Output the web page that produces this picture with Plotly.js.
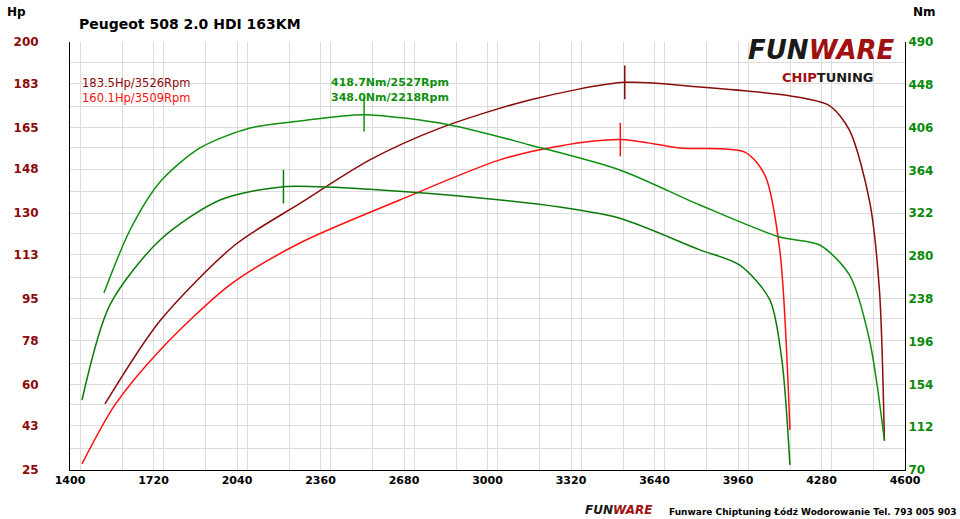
<!DOCTYPE html>
<html><head><meta charset="utf-8">
<script src="https://cdn.plot.ly/plotly-3.0.1.min.js"></script>
<style>body{margin:0;background:#fff}#plot{width:960px;height:519px}</style>
</head><body><div id="plot"></div>
<script>
const tunedHpRpm = [1534,1745,2032,2281,2549,2818,3162,3526,3813,4157,4310,4387,4464,4502,4521]
const tunedHp    = [52,86,117,134,151.8,164.8,176.3,183.5,181.6,178,174,164,135,98.6,37]
const stockHpRpm = [1446,1572,1745,2013,2281,2664,3047,3277,3509,3737,3986,4063,4120,4159]
const stockHp    = [27.5,51.6,74,100.7,117.8,135.4,151.8,157.5,160.1,156.7,155,145.6,115,41.4]
const tunedNmRpm = [1530,1630,1745,1898,2090,2281,2527,2856,3162,3507,3814,4120,4273,4388,4464,4521]
const tunedNm    = [243.7,305.5,352.6,386,405.6,412.5,418.7,408.6,389,364.4,330,298.6,290.8,261,197.6,99.4]
const stockNmRpm = [1446,1553,1745,1975,2218,2588,2971,3277,3507,3814,3967,4082,4128,4159]
const stockNm    = [138.7,232,295.7,335,348,344.8,337,328,317,286,271,237,178,75]
const peaks = {tunedHp:[3526,183.5], stockHp:[3509,160.1], tunedNm:[2527,418.7], stockNm:[2218,348.0]}
const hpTicks = [25,43,60,78,95,113,130,148,165,183,200]
const nmTicks = [70,112,154,196,238,280,322,364,406,448,490]
const rpmTicks = [1400,1720,2040,2360,2680,3000,3320,3640,3960,4280,4600]

const DR='#8b0a0a', R='#ff1010', G='#0f8f0f', DG='#0a7a0a'
function line(x,y,c,ax){return {x:x,y:y,yaxis:ax,mode:'lines',line:{color:c,width:1.5,shape:'spline',smoothing:0.8},hoverinfo:'skip'}}
function peak(p,c,ax){return {x:[p[0]],y:[p[1]],yaxis:ax,mode:'markers',marker:{symbol:'line-ns',size:24,line:{color:c,width:1.5}}}}
const data=[
  line(tunedNmRpm,tunedNm,G,'y2'),line(stockNmRpm,stockNm,DG,'y2'),
  line(tunedHpRpm,tunedHp,DR,'y'),line(stockHpRpm,stockHp,R,'y'),
  peak(peaks.tunedNm,G,'y2'),peak(peaks.stockNm,DG,'y2'),
  peak(peaks.tunedHp,DR,'y'),peak(peaks.stockHp,R,'y')
]
const f='Tahoma, DejaVu Sans, sans-serif'
const grid={showgrid:true,gridcolor:'#dcdcdc',gridwidth:1}
const b=s=>'<b>'+s+'</b>'
const layout={
  width:960,height:519,showlegend:false,plot_bgcolor:'#fff',paper_bgcolor:'#fff',
  margin:{l:70,r:55,t:42,b:49},
  xaxis:Object.assign({range:[1400,4600],tickvals:rpmTicks,ticktext:rpmTicks.map(v=>b(v)),
    minor:{dtick:160,showgrid:true,gridcolor:'#dcdcdc'},showline:true,linecolor:'#000',
    tickfont:{family:f,size:11,color:'#000'},zeroline:false,ticks:''},grid),
  yaxis:Object.assign({range:[25,200],tickvals:hpTicks,ticktext:hpTicks.map(v=>b(v)),
    minor:{tickvals:hpTicks.slice(0,-1).map(v=>v+8.75),showgrid:true,gridcolor:'#dcdcdc'},
    showline:true,linecolor:'#000',tickfont:{family:f,size:12,color:'#8b0a0a'},ticklabelstandoff:28,zeroline:false},grid),
  yaxis2:{range:[70,490],overlaying:'y',side:'right',tickvals:nmTicks,ticktext:nmTicks.map(v=>b(v)),
    showgrid:false,showline:true,linecolor:'#000',tickfont:{family:f,size:12,color:'#0a8a0a'},zeroline:false},
  annotations:[
    {xref:'paper',yref:'paper',x:-0.078,y:1.09,text:'<b>Hp</b>',showarrow:false,font:{family:f,size:12,color:'#000'}},
    {xref:'paper',yref:'paper',x:1.04,y:1.09,text:'<b>Nm</b>',showarrow:false,font:{family:f,size:12,color:'#000'}},
    {xref:'paper',yref:'paper',x:0.008,y:1.065,xanchor:'left',text:'<b>Peugeot 508 2.0 HDI 163KM</b>',showarrow:false,font:{family:f,size:14,color:'#000'}},
    {xref:'paper',yref:'paper',x:0.012,y:0.925,xanchor:'left',text:'183.5Hp/3526Rpm',showarrow:false,font:{family:'DejaVu Sans',size:11.5,color:DR}},
    {xref:'paper',yref:'paper',x:0.012,y:0.89,xanchor:'left',text:'160.1Hp/3509Rpm',showarrow:false,font:{family:'DejaVu Sans',size:11.5,color:R}},
    {xref:'paper',yref:'paper',x:0.31,y:0.925,xanchor:'left',text:'<b>418.7Nm/2527Rpm</b>',showarrow:false,font:{family:'DejaVu Sans',size:11,color:G}},
    {xref:'paper',yref:'paper',x:0.31,y:0.89,xanchor:'left',text:'<b>348.0Nm/2218Rpm</b>',showarrow:false,font:{family:'DejaVu Sans',size:11,color:G}},
    {xref:'paper',yref:'paper',x:0.99,y:1.02,xanchor:'right',text:'<b><i>FUN<span style="color:#a01010">WARE</span></i></b>',showarrow:false,font:{family:'DejaVu Sans',size:26,color:'#1a1a1a'}},
    {xref:'paper',yref:'paper',x:0.965,y:0.94,xanchor:'right',text:'<b><span style="color:#a01010">CHIP</span>TUNING</b>',showarrow:false,font:{family:'DejaVu Sans',size:13,color:'#1a1a1a'}},
    {xref:'paper',yref:'paper',x:0.7,y:-0.115,xanchor:'right',text:'<b><i>FUN<span style="color:#a01010">WARE</span></i></b>',showarrow:false,font:{family:'DejaVu Sans',size:12,color:'#1a1a1a'}},
    {xref:'paper',yref:'paper',x:1.065,y:-0.115,xanchor:'right',text:'<b>Funware Chiptuning Łódź Wodorowanie Tel. 793 005 903</b>',showarrow:false,font:{family:'DejaVu Sans',size:9,color:'#000'}}
  ]
}
Plotly.newPlot('plot',data,layout,{displayModeBar:false,staticPlot:true})
</script></body></html>
